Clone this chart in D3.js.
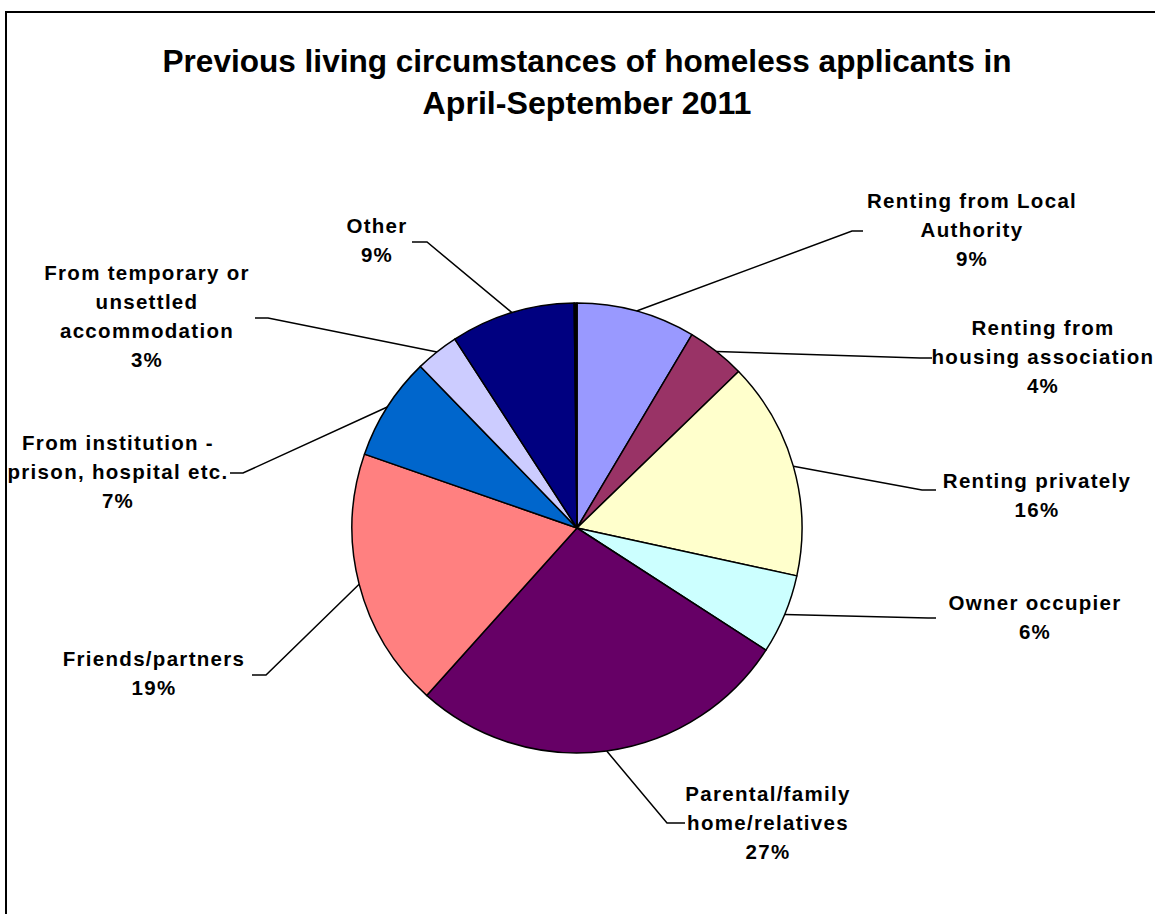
<!DOCTYPE html>
<html>
<head>
<meta charset="utf-8">
<script src="https://cdn.jsdelivr.net/npm/d3@7"></script>
<style>
  html, body { margin: 0; padding: 0; background: #fff; }
  svg { display: block; }
  .lbl { font-family: "Liberation Sans", Arial, sans-serif; font-weight: bold; font-size: 20.5px; letter-spacing: 1.3px; fill: #000; }
  .ttl { font-family: "Liberation Sans", Arial, sans-serif; font-weight: bold; font-size: 32px; fill: #000; }
</style>
</head>
<body>
<script>
// Previous living circumstances, share of applicants (%), clockwise from 12 o'clock
const categories = [
  "Renting from Local Authority",
  "Renting from housing association",
  "Renting privately",
  "Owner occupier",
  "Parental/family home/relatives",
  "Friends/partners",
  "From institution - prison, hospital etc.",
  "From temporary or unsettled accommodation",
  "Other",
  "Not recorded"
];
const values = [8.5, 4.2, 15.6, 5.7, 27.4, 18.6, 7.4, 3.1, 8.9, 0.2];
const colors = ["#9999FF", "#993366", "#FFFFCC", "#CCFFFF", "#660066",
                "#FF8080", "#0066CC", "#CCCCFF", "#000080", "#000000"];
// Label text broken into lines (null = slice carries no label)
const labelLines = [
  ["Renting from Local", "Authority"],
  ["Renting from", "housing association"],
  ["Renting privately"],
  ["Owner occupier"],
  ["Parental/family", "home/relatives"],
  ["Friends/partners"],
  ["From institution -", "prison, hospital etc."],
  ["From temporary or", "unsettled", "accommodation"],
  ["Other"],
  null
];
const titleLines = [
  "Previous living circumstances of homeless applicants in",
  "April-September 2011"
];

// Layout
const W = 1155, H = 914;
const cx = 577, cy = 528, R = 225;
const lineGap = 29;
// Label block placement: text centre x, first baseline y, leader elbow and end
const labelLayout = [
  { x: 972,  y: 208, elbow: [852, 231], end: [863, 231] },
  { x: 1043, y: 335, elbow: [920, 358], end: [932, 358] },
  { x: 1037, y: 488, elbow: [922, 490], end: [936, 490] },
  { x: 1035, y: 610, elbow: [928, 618], end: [936, 618] },
  { x: 768,  y: 801, elbow: [667, 823], end: [685, 823] },
  { x: 154,  y: 666, elbow: [266, 675], end: [252, 675] },
  { x: 118,  y: 450, elbow: [243, 473], end: [230, 473] },
  { x: 147,  y: 280, elbow: [268, 318], end: [255, 318] },
  { x: 377,  y: 233, elbow: [427, 242], end: [412, 242] },
  null
];

const svg = d3.select("body").append("svg").attr("width", W).attr("height", H);

// Chart frame
svg.append("rect")
  .attr("x", 6).attr("y", 12).attr("width", W + 20).attr("height", H + 20)
  .attr("fill", "#fff").attr("stroke", "#000").attr("stroke-width", 2);

// Title
const titleWidths = [849, 329];
const titleY = [72, 114];
svg.selectAll("text.ttl").data(titleLines).join("text")
  .attr("class", "ttl")
  .attr("x", 587)
  .attr("y", (d, i) => titleY[i])
  .attr("text-anchor", "middle")
  .attr("textLength", (d, i) => titleWidths[i])
  .attr("lengthAdjust", "spacingAndGlyphs")
  .text(d => d);

const data = categories.map((c, i) => ({ name: c, value: values[i], color: colors[i], lines: labelLines[i], layout: labelLayout[i] }));

const pie = d3.pie().value(d => d.value).sort(null);
const arcs = pie(data);
const arc = d3.arc().innerRadius(0).outerRadius(R);

const g = svg.append("g").attr("transform", `translate(${cx},${cy})`);
g.selectAll("path").data(arcs).join("path")
  .attr("d", arc)
  .attr("fill", d => d.data.color)
  .attr("stroke", "#000")
  .attr("stroke-width", 1.5)
  .attr("stroke-linejoin", "round");

// Leader lines from the slice edge at its mid-angle
const labelled = arcs.filter(d => d.data.lines);
svg.selectAll("polyline.leader").data(labelled).join("polyline")
  .attr("class", "leader")
  .attr("fill", "none")
  .attr("stroke", "#000")
  .attr("stroke-width", 1.5)
  .attr("points", d => {
    const a = (d.startAngle + d.endAngle) / 2;
    const sx = cx + R * Math.sin(a), sy = cy - R * Math.cos(a);
    const L = d.data.layout;
    return [[sx, sy], L.elbow, L.end].map(p => p.join(",")).join(" ");
  });

// Data labels: category lines then the percentage
const fmt = v => Math.round(v) + "%";
const lbl = svg.selectAll("text.lbl").data(labelled).join("text")
  .attr("class", "lbl")
  .attr("text-anchor", "middle");
lbl.each(function(d) {
  const t = d3.select(this);
  const L = d.data.layout;
  const rows = d.data.lines.concat([fmt(d.data.value)]);
  rows.forEach((r, i) => {
    t.append("tspan").attr("x", L.x).attr("y", L.y + i * lineGap).text(r);
  });
});
</script>
</body>
</html>
